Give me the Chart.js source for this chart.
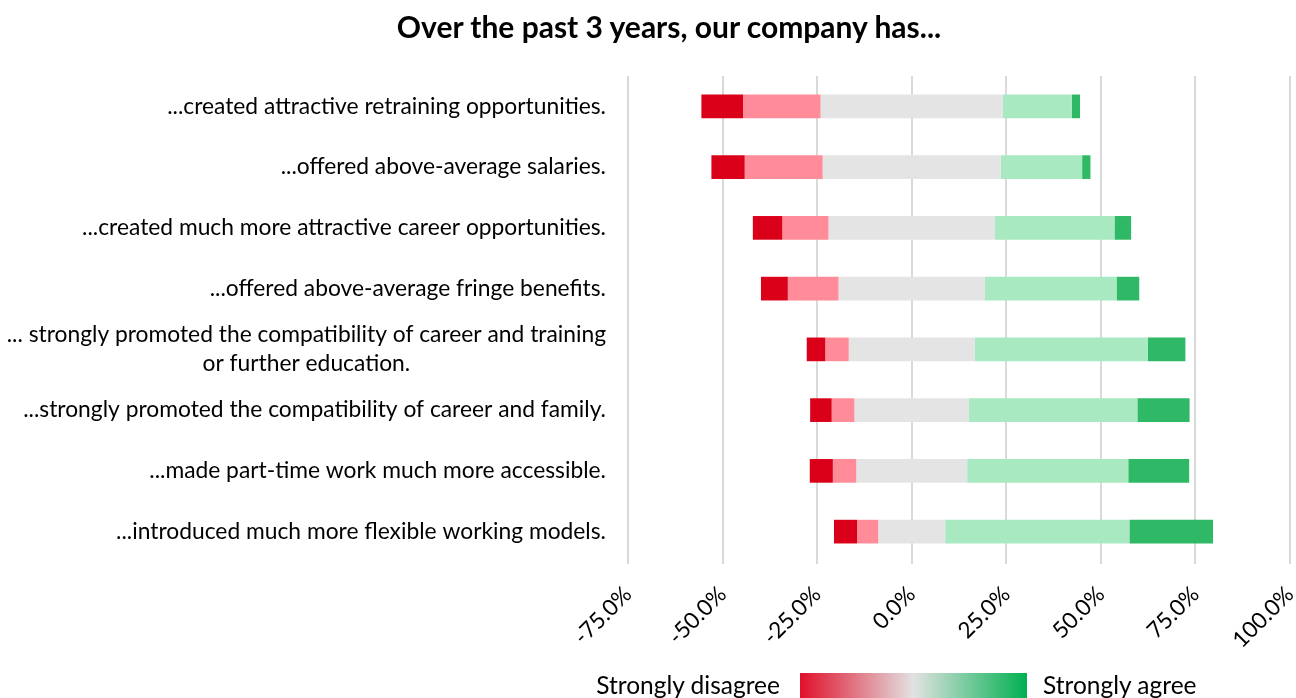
<!DOCTYPE html>
<html>
<head>
<meta charset="utf-8">
<script src="https://cdn.jsdelivr.net/npm/chart.js@4"></script>
<style>
  html, body { margin: 0; padding: 0; background: #fff; }
  body { width: 1296px; height: 698px; position: relative; overflow: hidden; font-family: Lato, 'Open Sans', sans-serif; color: #000; }
  #wrap { position: absolute; left: 0; top: 0; width: 1296px; height: 698px; }
  #title { position: absolute; left: 0; top: 6px; width: 1338px; text-align: center; font-weight: bold; font-size: 30px; line-height: 40px; }
  .leg { position: absolute; top: 670px; font-size: 24.5px; line-height: 30px; white-space: nowrap; }
  #legLeft { right: 516px; }
  #legRight { left: 1043px; }
  #legBar { position: absolute; left: 800px; top: 673px; width: 227px; height: 25px; background: linear-gradient(to right, #e0102a, #e2e2e2 50%, #00b050); }
</style>
</head>
<body>
<div id="wrap"><canvas id="likertChart"></canvas></div>
<div id="title">Over the past 3 years, our company has...</div>
<div class="leg" id="legLeft">Strongly disagree</div>
<div id="legBar"></div>
<div class="leg" id="legRight">Strongly agree</div>
<script>
const categories = [
    ['...created attractive retraining opportunities.'],
    ['...offered above-average salaries.'],
    ['...created much more attractive career opportunities.'],
    ['...offered above-average fringe benefits.'],
    ['... strongly promoted the compatibility of career and training', 'or further education.'],
    ['...strongly promoted the compatibility of career and family.'],
    ['...made part-time work much more accessible.'],
    ['...introduced much more flexible working models.']
];

// shares in percent
const stronglyDisagree = [11.0, 8.8, 7.8, 7.1, 4.9, 5.7, 6.1, 6.1];
const disagree         = [20.5, 20.6, 12.2, 13.4, 6.2, 6.0, 6.2, 5.6];
const neutral          = [48.2, 47.1, 44.0, 38.7, 33.3, 30.3, 29.3, 17.7];
const agree            = [18.2, 21.5, 31.6, 34.8, 45.8, 44.5, 42.6, 48.7];
const stronglyAgree    = [2.2, 2.2, 4.4, 6.0, 9.9, 13.8, 16.1, 22.1];

const xTicks = [-75, -50, -25, 0, 25, 50, 75, 100];

const colors = ['#da0019', '#ff8c98', '#e4e4e4', '#a8e9c1', '#2fb865'];
const FONT = "Lato, 'Open Sans', sans-serif";

// neutral block is split around zero, the rest stacks outwards
function ranges() {
    const segs = [[], [], [], [], []];
    categories.forEach((_, i) => {
        const n0 = -neutral[i] / 2;
        const n1 = neutral[i] / 2;
        const d0 = n0 - disagree[i];
        const sd0 = d0 - stronglyDisagree[i];
        const a1 = n1 + agree[i];
        const sa1 = a1 + stronglyAgree[i];
        segs[0].push([sd0, d0]);
        segs[1].push([d0, n0]);
        segs[2].push([n0, n1]);
        segs[3].push([n1, a1]);
        segs[4].push([a1, sa1]);
    });
    return segs;
}

const segs = ranges();
const names = ['Strongly disagree', 'Disagree', 'Neutral', 'Agree', 'Strongly agree'];

const yLabels = {
    id: 'yLabels',
    afterDraw(chart) {
        const ctx = chart.ctx;
        const yScale = chart.scales.y;
        const right = chart.chartArea.left - 22;
        ctx.save();
        ctx.font = '22.8px ' + FONT;
        ctx.fillStyle = '#000';
        ctx.textAlign = 'center';
        ctx.textBaseline = 'middle';
        categories.forEach((lines, i) => {
            const y = yScale.getPixelForValue(i);
            const w = Math.max(...lines.map(l => ctx.measureText(l).width));
            const lh = 29;
            const top = y - (lines.length - 1) * lh / 2;
            lines.forEach((l, k) => ctx.fillText(l, right - w / 2, top + k * lh));
        });
        ctx.restore();
    }
};

new Chart(document.getElementById('likertChart'), {
    type: 'bar',
    data: {
        labels: categories.map(c => c.join(' ')),
        datasets: segs.map((d, k) => ({
            label: names[k],
            data: d,
            backgroundColor: colors[k],
            borderWidth: 0,
            grouped: false,
            categoryPercentage: 1,
            barPercentage: 0.39
        }))
    },
    options: {
        indexAxis: 'y',
        responsive: true,
        maintainAspectRatio: false,
        animation: false,
        layout: { padding: { top: 76, right: 6, left: 0, bottom: 46 } },
        plugins: {
            legend: { display: false },
            title: { display: false },
            tooltip: { enabled: false }
        },
        scales: {
            x: {
                min: -75,
                max: 100,
                afterBuildTicks: scale => { scale.ticks = xTicks.map(v => ({ value: v })); },
                afterFit: scale => {
                    scale.height = 90;
                    scale.paddingLeft = 0;
                    scale.paddingRight = 0;
                },
                grid: { color: '#d9d9d9', lineWidth: 2, tickLength: 2 },
                border: { display: false },
                ticks: {
                    minRotation: 45,
                    maxRotation: 45,
                    padding: 17,
                    color: '#000',
                    font: { family: FONT, size: 22.5 },
                    callback: v => v.toFixed(1) + '%'
                }
            },
            y: {
                afterFit: scale => { scale.width = 628; },
                grid: { display: false },
                border: { display: false },
                ticks: { display: false }
            }
        }
    },
    plugins: [yLabels]
});
</script>
</body>
</html>
